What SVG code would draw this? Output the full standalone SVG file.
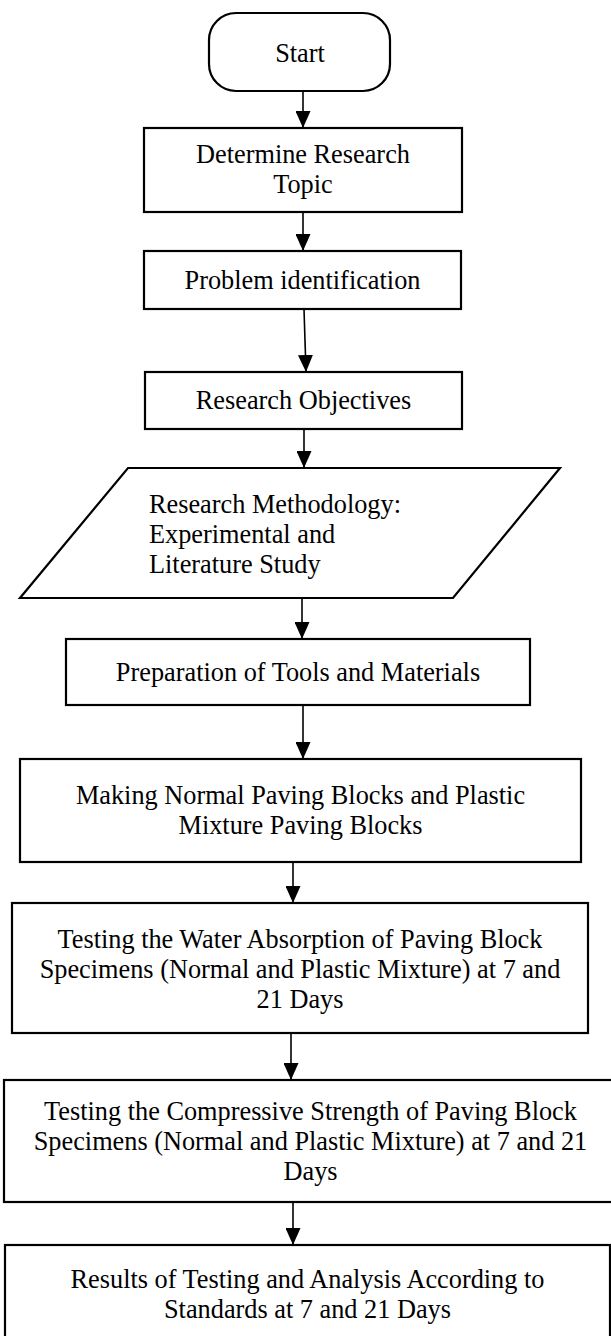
<svg xmlns="http://www.w3.org/2000/svg" width="611" height="1336" viewBox="0 0 611 1336">
<style>
.box{fill:#fff;stroke:#000;stroke-width:2.2}
.t{font-family:"Liberation Serif","Times New Roman",serif;font-size:26.3px;fill:#000;text-anchor:middle}
.tl{font-family:"Liberation Serif","Times New Roman",serif;font-size:26.3px;fill:#000;text-anchor:start}
.c{stroke:#000;stroke-width:1.6;fill:none;marker-end:url(#ah)}
</style>
<defs>
<marker id="ah" markerUnits="userSpaceOnUse" markerWidth="17" markerHeight="15" refX="17" refY="7.5" orient="auto">
<path d="M0,0 L17,7.5 L0,15 Z" fill="#000"/>
</marker>
</defs>
<rect width="611" height="1336" fill="#fff"/>
<g id="connectors">
<line class="c" x1="303" y1="91" x2="303" y2="128"/>
<line class="c" x1="303" y1="212" x2="303" y2="251"/>
<line class="c" x1="304" y1="309" x2="306" y2="372"/>
<line class="c" x1="304" y1="429" x2="304" y2="468"/>
<line class="c" x1="302" y1="598" x2="302" y2="639"/>
<line class="c" x1="303" y1="705" x2="303" y2="759"/>
<line class="c" x1="293" y1="862" x2="293" y2="903"/>
<line class="c" x1="291" y1="1033" x2="291" y2="1080"/>
<line class="c" x1="293" y1="1202" x2="293" y2="1245"/>
</g>
<g id="start">
<rect class="box" x="209" y="13" width="181" height="78" rx="27" ry="27"/>
<text class="t" x="300" y="62">Start</text>
</g>
<g id="topic">
<rect class="box" x="144" y="128" width="318" height="84"/>
<text class="t" x="303" y="163">Determine Research</text>
<text class="t" x="303" y="193">Topic</text>
</g>
<g id="problem">
<rect class="box" x="144" y="251" width="317" height="58"/>
<text class="t" x="302.5" y="289">Problem identification</text>
</g>
<g id="objectives">
<rect class="box" x="145" y="372" width="317" height="57"/>
<text class="t" x="303.5" y="409">Research Objectives</text>
</g>
<g id="methodology">
<polygon class="box" points="128,468 560,468 453,598 20,598"/>
<text class="tl" x="149" y="513">Research Methodology:</text>
<text class="tl" x="149" y="543">Experimental and</text>
<text class="tl" x="149" y="573">Literature Study</text>
</g>
<g id="preparation">
<rect class="box" x="66" y="639" width="464" height="66"/>
<text class="t" x="298" y="681">Preparation of Tools and Materials</text>
</g>
<g id="making">
<rect class="box" x="20" y="759" width="561" height="103"/>
<text class="t" x="300.5" y="804">Making Normal Paving Blocks and Plastic</text>
<text class="t" x="300.5" y="834">Mixture Paving Blocks</text>
</g>
<g id="water">
<rect class="box" x="12" y="903" width="576" height="130"/>
<text class="t" x="300" y="948">Testing the Water Absorption of Paving Block</text>
<text class="t" x="300" y="978">Specimens (Normal and Plastic Mixture) at 7 and</text>
<text class="t" x="300" y="1008">21 Days</text>
</g>
<g id="compressive">
<rect class="box" x="4" y="1080" width="613" height="122"/>
<text class="t" x="310.5" y="1120">Testing the Compressive Strength of Paving Block</text>
<text class="t" x="310.5" y="1150">Specimens (Normal and Plastic Mixture) at 7 and 21</text>
<text class="t" x="310.5" y="1180">Days</text>
</g>
<g id="results">
<rect class="box" x="5" y="1245" width="605" height="100"/>
<text class="t" x="307.5" y="1288">Results of Testing and Analysis According to</text>
<text class="t" x="307.5" y="1318">Standards at 7 and 21 Days</text>
</g>
</svg>
